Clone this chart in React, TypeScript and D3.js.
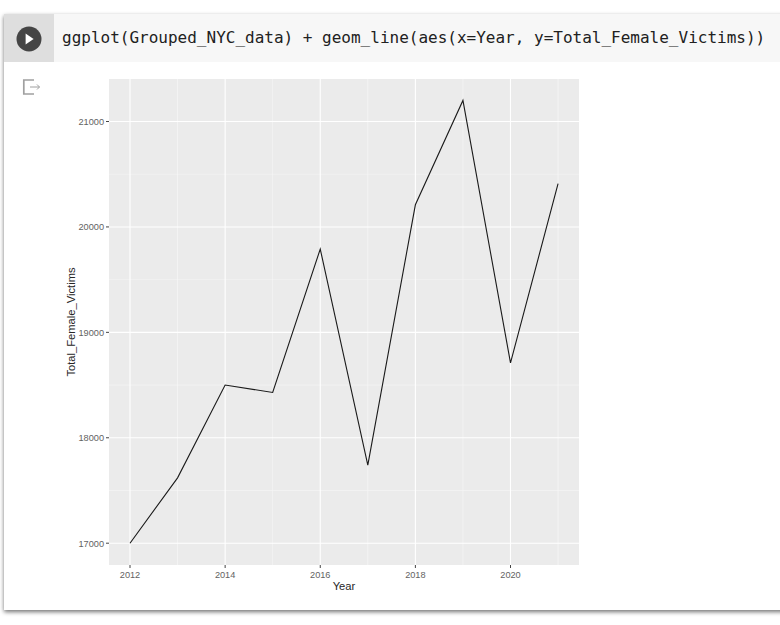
import React from "react";
import * as d3 from "d3";

const years = [2012, 2013, 2014, 2015, 2016, 2017, 2018, 2019, 2020, 2021];
const victims = [17000, 17620, 18500, 18430, 19790, 17740, 20210, 21200, 18710, 20410];
const xMajor = [2012, 2014, 2016, 2018, 2020];
const xMinor = [2013, 2015, 2017, 2019, 2021];
const yMajor = [17000, 18000, 19000, 20000, 21000];
const yMinor = [17500, 18500, 19500, 20500];

const panel = { left: 109, right: 579, top: 79, bottom: 565 };
const x = d3.scaleLinear().domain([2012, 2020]).range([130, 510.5]);
const y = d3.scaleLinear().domain([17000, 21000]).range([543.2, 121.5]);
const line = d3.line<number>().x((_, i) => x(years[i])).y((d) => y(d));

const sans = "'Liberation Sans', Arial, sans-serif";

export default function App() {
  return (
    <svg width={780} height={625} style={{ position: "absolute", left: 0, top: 0, background: "#fff" }}>
      <defs>
        <filter id="cardShadow" x="-5%" y="-5%" width="110%" height="110%">
          <feDropShadow dx="0" dy="2" stdDeviation="2.2" floodColor="#000" floodOpacity="0.55" />
        </filter>
      </defs>
      <rect x={4} y={14} width={800} height={596} fill="#fff" filter="url(#cardShadow)" />
      <rect x={4} y={14} width={776} height={48} fill="#f7f7f7" />
      <rect x={4} y={14} width={50} height={48} fill="#dedede" />
      <circle cx={29} cy={39} r={12.5} fill="#454545" />
      <path d="M25.6,33.6 L33.6,39 L25.6,44.4 Z" fill="#fff" />
      <text x={62} y={43} fontFamily="'DejaVu Sans Mono', monospace" fontSize={16} fill="#212121">
        ggplot(Grouped_NYC_data) + geom_line(aes(x=Year, y=Total_Female_Victims))
      </text>
      <g fill="none" stroke="#a0a0a0" strokeWidth={1.7}>
        <path d="M34,80 H23.8 V94 H34" />
        <path d="M30,87 H39.5 M37,84.5 L39.5,87 L37,89.5" strokeWidth={1} />
      </g>

      <rect x={panel.left} y={panel.top} width={panel.right - panel.left} height={panel.bottom - panel.top} fill="#ebebeb" />
      {yMinor.map((v) => (
        <line key={v} x1={panel.left} x2={panel.right} y1={y(v)} y2={y(v)} stroke="#f6f6f6" strokeWidth={0.6} />
      ))}
      {xMinor.map((v) => (
        <line key={v} x1={x(v)} x2={x(v)} y1={panel.top} y2={panel.bottom} stroke="#f6f6f6" strokeWidth={0.7} />
      ))}
      {yMajor.map((v) => (
        <line key={v} x1={panel.left} x2={panel.right} y1={y(v)} y2={y(v)} stroke="#fff" strokeWidth={1.1} />
      ))}
      {xMajor.map((v) => (
        <line key={v} x1={x(v)} x2={x(v)} y1={panel.top} y2={panel.bottom} stroke="#fff" strokeWidth={1.1} />
      ))}
      <path d={line(victims) ?? ""} fill="none" stroke="#1a1a1a" strokeWidth={1.1} />

      {yMajor.map((v) => (
        <g key={v}>
          <line x1={106} x2={109} y1={y(v)} y2={y(v)} stroke="#444" strokeWidth={1} />
          <text x={104} y={y(v) + 3.4} textAnchor="end" fontFamily={sans} fontSize={9.2} fill="#626262">
            {v}
          </text>
        </g>
      ))}
      {xMajor.map((v) => (
        <g key={v}>
          <line x1={x(v)} x2={x(v)} y1={565} y2={568} stroke="#444" strokeWidth={1} />
          <text x={x(v)} y={578} textAnchor="middle" fontFamily={sans} fontSize={9.2} fill="#626262">
            {v}
          </text>
        </g>
      ))}
      <text x={344} y={590} textAnchor="middle" fontFamily={sans} fontSize={11.2} fill="#262626">
        Year
      </text>
      <text transform="translate(74.5,322) rotate(-90)" textAnchor="middle" fontFamily={sans} fontSize={11.2} fill="#262626">
        Total_Female_Victims
      </text>
    </svg>
  );
}
